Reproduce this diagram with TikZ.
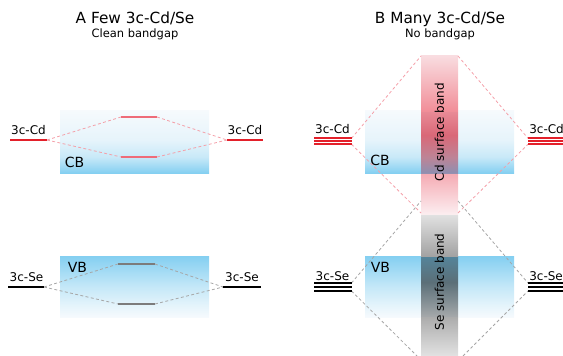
\documentclass[tikz,border=0pt]{standalone}
\usepackage{fontspec}
\setmainfont{DejaVu Sans}
\usepackage{xcolor}
\usetikzlibrary{calc,positioning}
\definecolor{celeste}{HTML}{84CFF1}
\definecolor{blanco}{HTML}{F6FAFD}
\definecolor{cbmedA}{HTML}{C8E9F8}
\definecolor{cbmedB}{HTML}{E6F4FB}
\definecolor{vbmedA}{HTML}{C5E8F8}
\definecolor{vbmedB}{HTML}{E2F3FB}
\definecolor{rojocd}{HTML}{E3202A}
\definecolor{rosa}{HTML}{EE6C79}
\definecolor{guioncd}{HTML}{F4A0A9}
\definecolor{guionse}{HTML}{A6A6A6}
\definecolor{grisfr}{HTML}{7C7C7C}
% colores de la franja (ya mezclados con las bandas)
\definecolor{fa}{rgb}{0.886,0.886,0.886}
\definecolor{fb}{rgb}{0.675,0.675,0.675}
\definecolor{fc}{rgb}{0.651,0.662,0.670}
\definecolor{fd}{rgb}{0.536,0.577,0.595}
\definecolor{fe}{rgb}{0.356,0.434,0.470}
\definecolor{ff}{rgb}{0.331,0.519,0.604}
\definecolor{fg}{rgb}{0.639,0.639,0.639}
\definecolor{fh}{rgb}{0.886,0.886,0.886}
\definecolor{fi}{rgb}{0.988,0.930,0.940}
\definecolor{fj}{rgb}{0.959,0.667,0.699}
\definecolor{fk}{rgb}{0.560,0.560,0.690}
\definecolor{fl}{rgb}{0.743,0.516,0.588}
\definecolor{fm}{rgb}{0.852,0.407,0.468}
\definecolor{fn}{rgb}{0.913,0.546,0.592}
\definecolor{fo}{rgb}{0.946,0.557,0.597}
\definecolor{fp}{rgb}{0.976,0.863,0.878}
\pgfdeclareverticalshading{cajacb}{100bp}{color(0bp)=(celeste); color(25bp)=(celeste);
  color(37.9bp)=(cbmedA); color(51.6bp)=(cbmedB); color(75bp)=(blanco); color(100bp)=(blanco)}
\pgfdeclareverticalshading{cajavb}{100bp}{color(0bp)=(blanco); color(25bp)=(blanco);
  color(35.7bp)=(vbmedB); color(49.6bp)=(vbmedA); color(75bp)=(celeste); color(100bp)=(celeste)}
\pgfdeclareverticalshading{franja}{100bp}{color(0bp)=(fa); color(25bp)=(fa);
  color(31.5bp)=(fb); color(31.52bp)=(fc); color(33.667bp)=(fd); color(37.333bp)=(fe);
  color(41.647bp)=(ff); color(41.667bp)=(fg); color(48.647bp)=(fh); color(48.667bp)=(fi);
  color(55.48bp)=(fj); color(55.5bp)=(fk); color(58.167bp)=(fl); color(61.833bp)=(fm);
  color(65.813bp)=(fn); color(65.833bp)=(fo); color(75bp)=(fp); color(100bp)=(fp)}
\tikzset{
  bandacb/.style={shading=cajacb,draw=none},
  bandavb/.style={shading=cajavb,draw=none},
  nivelcd/.style={rosa,line width=2.2pt},
  nivelse/.style={grisfr,line width=2.2pt},
  lineacd/.style={rojocd,line width=2.2pt},
  linease/.style={black,line width=2.2pt},
  ligacd/.style={guioncd,line width=0.6pt,dash pattern=on 2.2pt off 1.8pt},
  ligase/.style={guionse,line width=0.6pt,dash pattern=on 2.2pt off 1.8pt},
  titulo/.style={anchor=base,inner sep=0pt,font=\fontsize{11.5}{13}\selectfont},
  subtit/.style={anchor=base,inner sep=0pt,font=\fontsize{8.6}{10}\selectfont},
  etiq/.style={anchor=base,inner sep=0pt,font=\fontsize{9}{10}\selectfont},
  banda/.style={anchor=base west,inner sep=0pt,font=\fontsize{10.5}{12}\selectfont},
  textofr/.style={rotate=90,inner sep=0pt,font=\fontsize{9}{10}\selectfont}
}

\begin{document}
\begin{tikzpicture}[x=0.75pt,y=-0.75pt]
\useasboundingbox (0,0) rectangle (563,356);
% titulos
\node[titulo] (tA) at (135,24) {A Few 3c-Cd/Se};
\node[subtit] (sA) at (135,37.3) {Clean bandgap};
\node[titulo] (tB) at (440,24) {B Many 3c-Cd/Se};
\node[subtit] (sB) at (440,37.3) {No bandgap};
% panel A: bandas
\shade[bandacb] (60,111) rectangle (209,173);
\shade[bandavb] (60,256) rectangle (209,317);
\node[banda] (cbA) at (64.5,167) {CB};
\node[banda] (vbA) at (67.5,272) {VB};
% panel A: niveles Cd
\coordinate (cdAi1) at (10,140);  \coordinate (cdAi2) at (47,140);
\coordinate (cdAd1) at (227,140); \coordinate (cdAd2) at (263,140);
\coordinate (cbA1) at (121,117);  \coordinate (cbA2) at (157,117);
\coordinate (cbA3) at (121,157);  \coordinate (cbA4) at (157,157);
\draw[ligacd] (cdAi2) -- (cbA1);
\draw[ligacd] (cdAi2) -- (cbA3);
\draw[ligacd] (cbA2) -- (cdAd1);
\draw[ligacd] (cbA4) -- (cdAd1);
\draw[lineacd] (cdAi1) -- (cdAi2);
\draw[lineacd] (cdAd1) -- (cdAd2);
\draw[nivelcd] (cbA1) -- (cbA2);
\draw[nivelcd] (cbA3) -- (cbA4);
\node[etiq] (lcdAi) at (28.5,134) {3c-Cd};
\node[etiq] (lcdAd) at (245,134) {3c-Cd};
% panel A: niveles Se
\coordinate (seAi1) at (8,287);   \coordinate (seAi2) at (44,287);
\coordinate (seAd1) at (223,287); \coordinate (seAd2) at (261,287);
\coordinate (vbA1) at (118,264);  \coordinate (vbA2) at (155,264);
\coordinate (vbA3) at (118,304);  \coordinate (vbA4) at (155,304);
\draw[ligase] (seAi2) -- (vbA1);
\draw[ligase] (seAi2) -- (vbA3);
\draw[ligase] (vbA2) -- (seAd1);
\draw[ligase] (vbA4) -- (seAd1);
\draw[linease] (seAi1) -- (seAi2);
\draw[linease] (seAd1) -- (seAd2);
\draw[nivelse] (vbA1) -- (vbA2);
\draw[nivelse] (vbA3) -- (vbA4);
\node[etiq] (lseAi) at (26.5,281) {3c-Se};
\node[etiq] (lseAd) at (242,281) {3c-Se};
% panel B: bandas y franja superficial
\shade[bandacb] (365,111) rectangle (514,173);
\shade[bandavb] (365,256) rectangle (514,317);
\shade[shading=franja] (421,56) rectangle (458,356);
\node[textofr] (frCd) at (439.5,132) {Cd surface band};
\node[textofr] (frSe) at (439.5,282) {Se surface band};
\node[banda] (cbB) at (370,165) {CB};
\node[banda] (vbB) at (370.5,272) {VB};
% panel B: enlaces
\coordinate (cdBi1) at (351.5,138.3); \coordinate (cdBi2) at (351.5,144.3);
\coordinate (cdBd1) at (528,138.3);   \coordinate (cdBd2) at (528,144.3);
\coordinate (seBi1) at (351.5,283);   \coordinate (seBi2) at (351.5,291);
\coordinate (seBd1) at (528,283);     \coordinate (seBd2) at (528,291);
\coordinate (frA1) at (421,56);  \coordinate (frA2) at (458,56);
\coordinate (frB1) at (421,213); \coordinate (frB2) at (458,213);
\coordinate (frC1) at (421,201); \coordinate (frC2) at (458,201);
\coordinate (frD1) at (417,356); \coordinate (frD2) at (463,356);
\draw[ligacd] (cdBi1) -- (frA1);
\draw[ligacd] (cdBi2) -- (frB1);
\draw[ligacd] (frA2) -- (cdBd1);
\draw[ligacd] (frB2) -- (cdBd2);
\draw[ligase] (seBi1) -- (frC1);
\draw[ligase] (seBi2) -- (frD1);
\draw[ligase] (frC2) -- (seBd1);
\draw[ligase] (frD2) -- (seBd2);
% niveles apilados
\foreach \y in {138.3,141.3,144.3} {
  \draw[rojocd,line width=1.25pt] (314,\y) -- (351.5,\y);
  \draw[rojocd,line width=1.25pt] (528,\y) -- (570,\y);
}
\foreach \y in {283,287,291} {
  \draw[black,line width=2pt] (314,\y) -- (351.5,\y);
  \draw[black,line width=2pt] (528,\y) -- (570,\y);
}
\node[etiq] (lcdBi) at (332.5,133) {3c-Cd};
\node[etiq,anchor=base west] (lcdBd) at (529,133) {3c-Cd};
\node[etiq] (lseBi) at (332.5,280.5) {3c-Se};
\node[etiq,anchor=base west] (lseBd) at (529,280.5) {3c-Se};
\end{tikzpicture}
\end{document}
